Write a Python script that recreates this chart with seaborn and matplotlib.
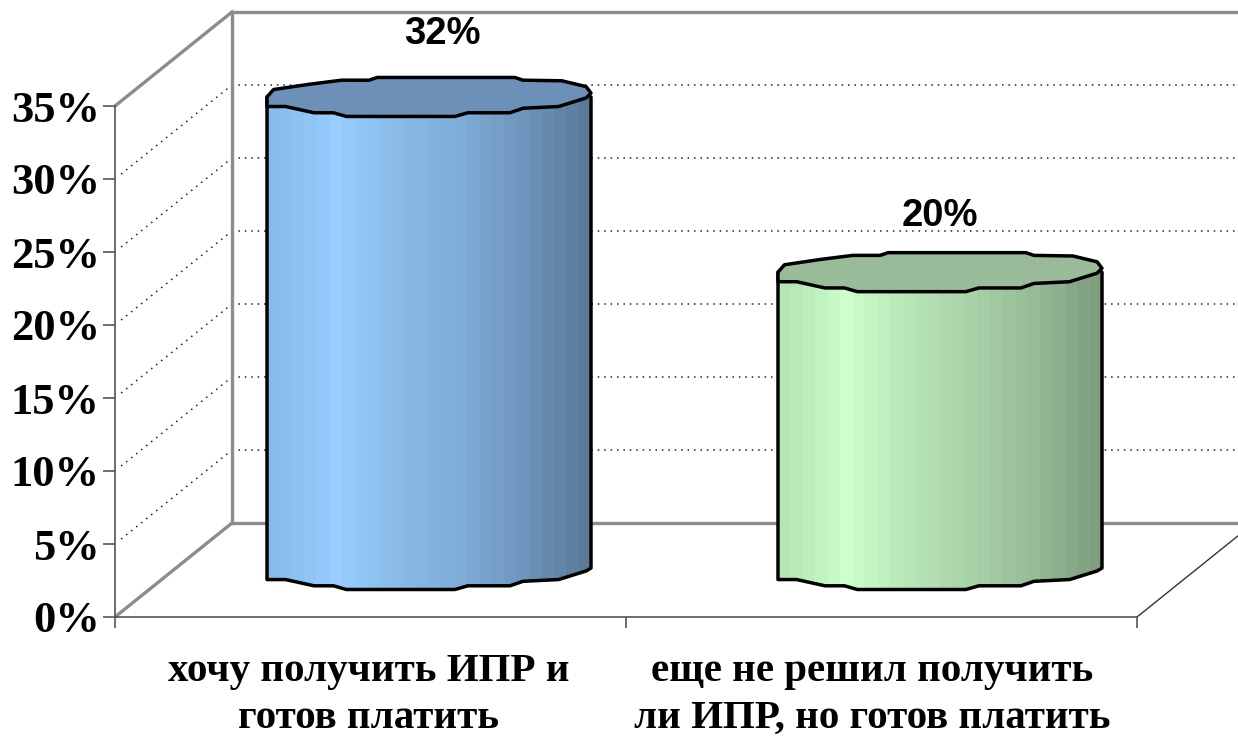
import numpy as np
import pandas as pd
import matplotlib
matplotlib.use("Agg")
import matplotlib.pyplot as plt
from matplotlib.patches import Polygon
from matplotlib.ticker import PercentFormatter
import seaborn as sns

categories = ["хочу получить ИПР и\nготов платить",
              "еще не решил получить\nли ИПР, но готов платить"]
values = [32.4, 20.4]
y_ticks = [0, 5, 10, 15, 20, 25, 30, 35]

blue_side = ["#86bbeb", "#99ccff", "#8abbe8", "#7fadd8", "#6f96bd", "#5a7a9a"]
green_side = ["#b4e6b4", "#ccffcc", "#b8e6b8", "#a9d2a9", "#97bb97", "#7f9f7f"]
side_palettes = [blue_side, green_side]
top_colors = ["#6c90b8", "#99bb99"]

# Faceted outline of the Excel cylinder end, unit coordinates
rim_back_x = [-1, -0.96, -0.74, -0.54, -0.37, -0.32, 0.53, 0.58, 0.82, 0.97, 1]
rim_back_y = [0.0, 0.38, 0.65, 0.86, 0.86, 1, 1, 0.86, 0.83, 0.53, 0.2]
rim_front_x = [1, 0.97, 0.8, 0.58, 0.5, 0.24, 0.16, -0.51, -0.59, -0.71, -0.885, -1]
rim_front_y = [0.1, -0.05, -0.49, -0.58, -0.81, -0.81, -1, -1, -0.81, -0.81, -0.49, -0.49]

PX_X = 511.0      # pixels per category
PX_Y = 14.6       # pixels per percent
DEPTH_X = 117 / PX_X
DEPTH_Y = 94 / PX_Y
RIM_H = 19.5 / PX_Y
GRAY = "#8c8c8c"
SERIF = "Liberation Serif"
SANS = "Liberation Sans"

sns.set_theme(style="white")
plt.rcParams["font.family"] = [SERIF, "DejaVu Sans"]

fig = plt.figure(figsize=(12.38, 7.40), dpi=100)
ax = fig.add_axes([0, 0, 1, 1])
df = pd.DataFrame({"cat": categories, "val": values})
sns.barplot(data=df, x="cat", y="val", ax=ax, width=324 / PX_X,
            color="#99ccff", linewidth=0, zorder=3)

x_left, x_right = -0.5 - 115 / PX_X, -0.5 + (1238 - 115) / PX_X
ax.set_xlim(x_left, x_right)
ax.set_ylim(-(740 - 617) / PX_Y, 617 / PX_Y)
ax.set_xlabel("")
ax.set_ylabel("")
ax.patch.set_visible(False)

# Axes
for s in ("top", "right"):
    ax.spines[s].set_visible(False)
ax.spines["left"].set_position(("data", -0.5))
ax.spines["left"].set_bounds(0, 35)
ax.spines["bottom"].set_position(("data", 0))
ax.spines["bottom"].set_bounds(-0.5, 1.5)
for s in ("left", "bottom"):
    ax.spines[s].set_color("#555555")
    ax.spines[s].set_linewidth(1.2)
ax.set_yticks(y_ticks)
ax.yaxis.set_major_formatter(PercentFormatter(decimals=0))
ax.tick_params(axis="y", length=8.5, width=1.2, color="#555555", pad=2.5,
               left=True, labelsize=32, labelcolor="black")
for t in ax.get_yticklabels():
    t.set_fontweight("bold")
    t.set_fontfamily(SERIF)
ax.set_xticks([-0.5, 0.5, 1.5])
ax.set_xticklabels([])
ax.tick_params(axis="x", length=8, width=1.2, color="#555555", bottom=True)

# Walls and floor
bx, by = -0.5 + DEPTH_X, DEPTH_Y
wall = dict(color=GRAY, lw=2.4, zorder=2, solid_capstyle="projecting")
ax.plot([bx, bx], [by, 35 + by], **wall)
ax.plot([bx, x_right], [35 + by, 35 + by], **wall)
ax.plot([bx, x_right], [by, by], **wall)
ax.plot([-0.5, bx], [35, 35 + by], **wall)
ax.plot([-0.5, bx], [0, by], **wall)
ax.plot([1.5, x_right], [0, (x_right - 1.5) / DEPTH_X * DEPTH_Y],
        color="#333333", lw=1, zorder=2)

# Dotted grid
dots = dict(color="#222222", lw=1.1, ls=(0, (1, 3.2)), zorder=1)
for v in y_ticks[1:-1]:
    ax.plot([bx, x_right], [v + by, v + by], **dots)
    ax.plot([-0.5 + 0.012, bx], [v + 0.012 * DEPTH_Y / DEPTH_X, v + by], **dots)

# Cylinders, from the bars placed by seaborn
for i, bar in enumerate(ax.patches):
    x0 = bar.get_x() + DEPTH_X / 2
    w = bar.get_width()
    h = bar.get_height()
    cx = x0 + w / 2
    y0 = DEPTH_Y / 2
    top = y0 + h
    bar.set_x(x0)
    bar.set_y(y0)

    rx = np.array(rim_front_x)
    ry = np.array(rim_front_y)
    base = np.column_stack([cx + rx * w / 2, y0 + ry * RIM_H])
    body = np.vstack([base, [[x0, top]], [[x0 + w, top]], base[:1]])

    pal = sns.blend_palette(side_palettes[i], 26)
    stripes = np.array(pal)[None, :, :]
    poly = Polygon(body, closed=True, fc="none", ec="none",
                   transform=ax.transData)
    ax.add_patch(poly)
    im = ax.imshow(stripes, extent=[x0, x0 + w, y0 - 2 * RIM_H, top],
                   aspect="auto", interpolation="nearest", zorder=4)
    im.set_clip_path(poly)

    # Outline of the sides and the base
    ax.plot(np.r_[x0, base[::-1, 0], x0 + w],
            np.r_[top, base[::-1, 1], top],
            color="black", lw=2.5, zorder=5, solid_joinstyle="round")

    # Top face
    rim = np.column_stack([
        cx + np.r_[rim_back_x, rim_front_x[1:]] * 1.0 * w / 2,
        top + np.r_[rim_back_y, rim_front_y[1:]] * RIM_H])
    ax.add_patch(Polygon(rim, closed=True, fc=top_colors[i], ec="black",
                         lw=2.5, zorder=6, joinstyle="round"))

# Value labels
label_dx = [13 / PX_X, 0]
label_dy = [7.5, 7.1]
for i, v in enumerate(values):
    ax.text(i + DEPTH_X / 2 + label_dx[i], v + label_dy[i], f"{v:.0f}%",
            ha="center", va="center", fontsize=27.5, fontweight="bold",
            family=SANS, color="black", zorder=7)

# Category labels
cat_dx = [-2 / PX_X, -9 / PX_X]
for i, c in enumerate(categories):
    ax.text(i + cat_dx[i], -(695 - 617) / PX_Y, c, ha="center", va="center",
            fontsize=29.5, fontweight="bold", family=SERIF, color="black",
            linespacing=1.38, zorder=7)

ax.set_xlim(x_left, x_right)
ax.set_ylim(-(740 - 617) / PX_Y, 617 / PX_Y)
fig.savefig("out.png", dpi=100, facecolor="white")
